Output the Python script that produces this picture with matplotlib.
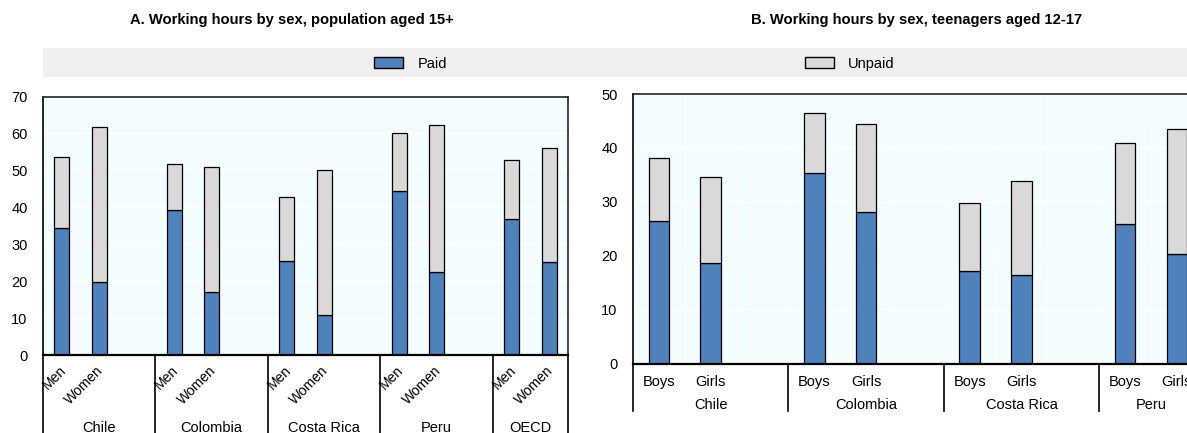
import matplotlib.pyplot as plt
import matplotlib.transforms as mtransforms
from matplotlib.patches import Patch, Rectangle

plt.rcParams['font.family'] = ['Liberation Sans', 'DejaVu Sans']
plt.rcParams['font.size'] = 10

# Panel A: population aged 15+
countries_a = ['Chile', 'Colombia', 'Costa Rica', 'Peru', 'OECD']
sexes_a = ['Men', 'Women']
paid_a = [34.5, 19.7, 39.4, 17.0, 25.5, 10.8, 44.4, 22.4, 36.9, 25.3]
unpaid_a = [19.0, 42.0, 12.4, 34.0, 17.2, 39.4, 15.7, 39.8, 15.9, 30.7]

# Panel B: teenagers aged 12-17
countries_b = ['Chile', 'Colombia', 'Costa Rica', 'Peru']
sexes_b = ['Boys', 'Girls']
paid_b = [26.5, 18.6, 35.4, 28.2, 17.1, 16.4, 25.8, 20.3]
unpaid_b = [11.7, 16.0, 11.0, 16.2, 12.7, 17.5, 15.2, 23.2]

PAID = '#4F81BD'
UNPAID = '#D9D9D9'
BG = '#F3FCFF'


def positions(n_groups, n_per):
    # bars of one group side by side, one empty slot between groups
    xs = []
    for g in range(n_groups):
        for k in range(n_per):
            xs.append(g * (n_per + 1) + k)
    return xs


def group_edges(n_groups, last):
    return [-0.5] + [g * 3 + 2.5 for g in range(n_groups - 1)] + [last + 0.5]


def style_axes(ax, ymax, step, vgrid=False):
    ax.set_facecolor(BG)
    ax.set_ylim(0, ymax)
    ax.set_yticks(range(0, ymax + 1, step))
    ax.yaxis.grid(True, color='white', lw=1.2)
    if vgrid:
        ax.set_xticks([x - 0.5 for x in range(int(ax.get_xlim()[1]) + 2)], minor=True)
        ax.xaxis.grid(True, which='minor', color='white', lw=1.0)
        ax.tick_params(axis='x', which='minor', length=0)
    ax.set_axisbelow(True)
    ax.tick_params(axis='y', length=0, pad=11, labelsize=10.5)
    ax.tick_params(axis='x', length=0)
    for s in ax.spines.values():
        s.set_color('#222222')
        s.set_linewidth(1.2)
    ax.spines['bottom'].set_color('black')
    ax.spines['bottom'].set_linewidth(1.6)
    ax.spines['left'].set_color('black')


def stacked(ax, xs, paid, unpaid):
    ax.bar(xs, paid, width=0.4, color=PAID, edgecolor='black', lw=0.9)
    ax.bar(xs, unpaid, width=0.4, bottom=paid, color=UNPAID, edgecolor='black', lw=0.9)


fig = plt.figure(figsize=(11.87, 4.33), dpi=100)

# ---- panel A ----
axa = fig.add_axes([0.0362, 0.1801, 0.4423, 0.5970])
xa = positions(len(countries_a), len(sexes_a))
stacked(axa, xa, paid_a, unpaid_a)
axa.set_xlim(-0.5, xa[-1] + 0.5)
style_axes(axa, 70, 10)
axa.set_xticks([])
ta = mtransforms.blended_transform_factory(axa.transData, axa.transAxes)
for i, x in enumerate(xa):
    axa.text(x - 0.08, -0.031, sexes_a[i % 2], transform=ta, rotation=45,
             ha='right', va='top', rotation_mode='anchor', fontsize=10)
edges_a = group_edges(len(countries_a), xa[-1])
for s in edges_a:
    axa.plot([s, s], [0, -0.35], transform=ta, color='black', lw=1.2, clip_on=False)
for g, c in enumerate(countries_a):
    mid = (edges_a[g] + edges_a[g + 1]) / 2
    axa.text(mid, -0.283, c, transform=ta, ha='center', va='center', fontsize=10.5)
fig.text(0.246, 0.954, 'A. Working hours by sex, population aged 15+', fontsize=10.6,
         fontweight='bold', ha='center', va='center')

# ---- panel B ----
axb = fig.add_axes([0.5333, 0.1605, 0.4800, 0.6224])
xb = positions(len(countries_b), len(sexes_b))
stacked(axb, xb, paid_b, unpaid_b)
axb.set_xlim(-0.5, xb[-1] + 0.5)
style_axes(axb, 50, 10, vgrid=True)
axb.set_xticks(xb)
axb.set_xticklabels([sexes_b[i % 2] for i in range(len(xb))], fontsize=10.5)
axb.tick_params(axis='x', pad=8)
tb = mtransforms.blended_transform_factory(axb.transData, axb.transAxes)
edges_b = group_edges(len(countries_b), xb[-1])
for s in edges_b[:-1]:
    axb.plot([s, s], [0, -0.178], transform=tb, color='black', lw=1.2, clip_on=False)
for g, c in enumerate(countries_b):
    mid = (edges_b[g] + edges_b[g + 1]) / 2
    axb.text(mid, -0.155, c, transform=tb, ha='center', va='center', fontsize=10.5)
fig.text(0.772, 0.954, 'B. Working hours by sex, teenagers aged 12-17', fontsize=10.6,
         fontweight='bold', ha='center', va='center')

# legend band across both panels
fig.patches.append(Rectangle((0.0362, 0.822), 1.0, 0.067, transform=fig.transFigure,
                             facecolor='#EFEFEF', edgecolor='none', zorder=0))
handles = [Patch(facecolor=PAID, edgecolor='black', lw=1.0),
           Patch(facecolor=UNPAID, edgecolor='black', lw=1.0)]
fig.legend(handles, ['Paid', 'Unpaid'], ncol=2, frameon=False, loc='center',
           bbox_to_anchor=(0.5345, 0.853), handlelength=2.0, handleheight=0.8,
           handletextpad=1.0, columnspacing=24.5, fontsize=10.5)

fig.savefig('out.png', dpi=100)
